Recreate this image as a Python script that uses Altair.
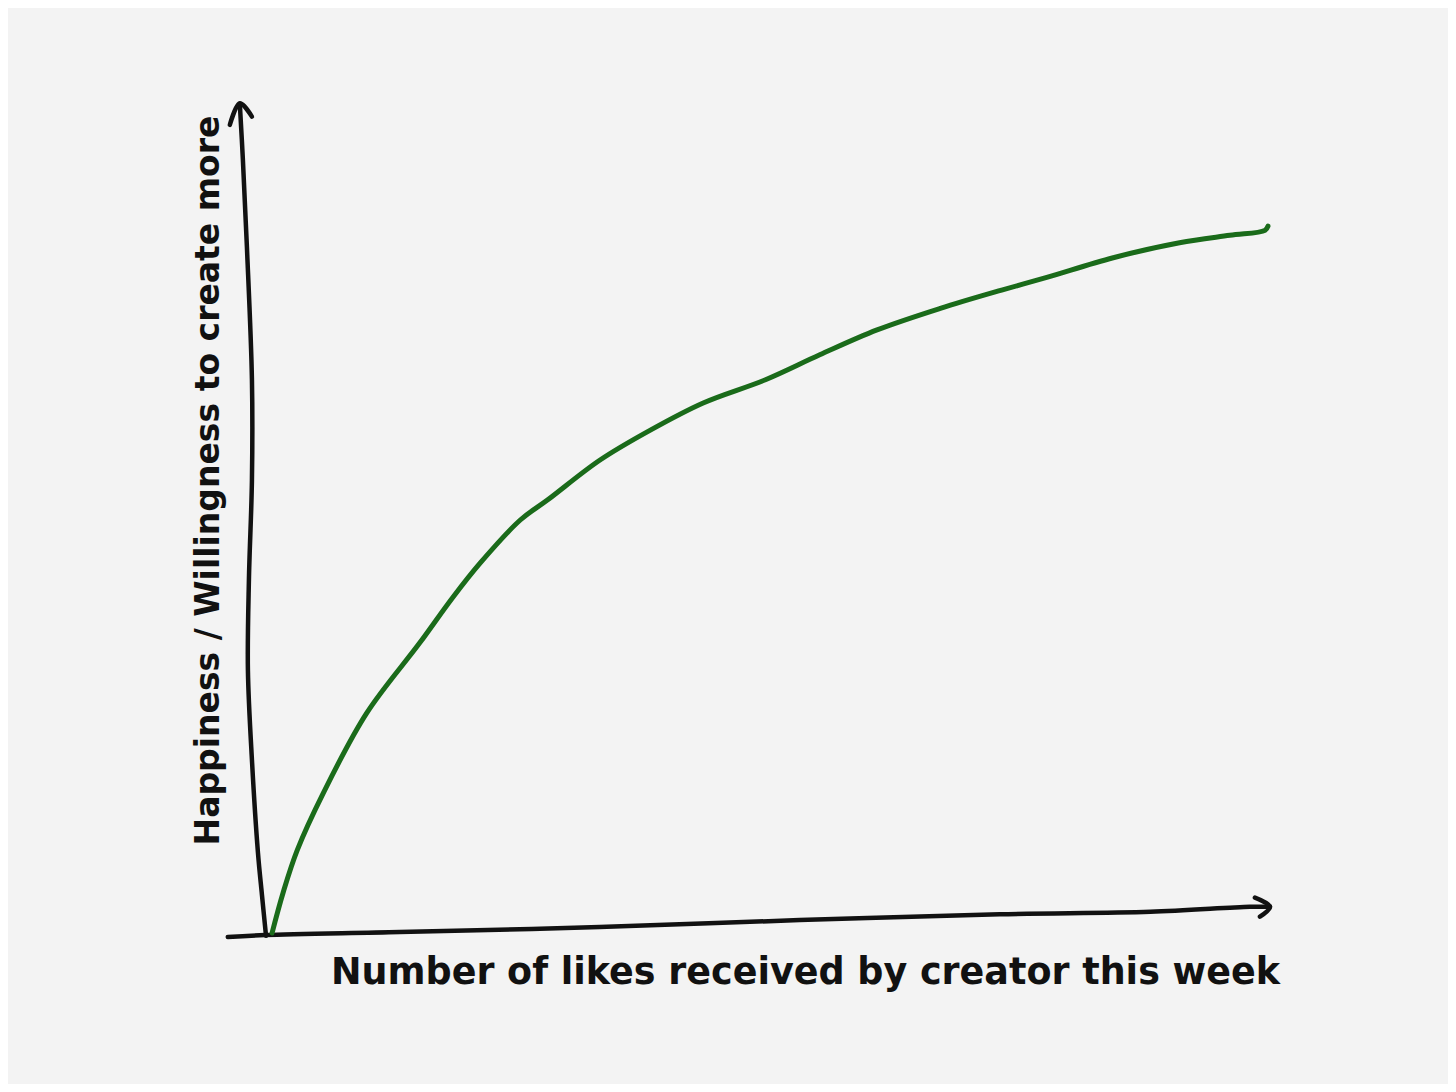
import altair as alt
import pandas as pd

# Green curve: likes (0-100 scale) vs happiness (0-100 scale)
curve_x = [0.7, 1.8, 3.2, 5.8, 10.1, 15.4, 18.7, 21.4, 25.4, 28.1, 33.3, 38.3, 43.6,
           49.8, 55.2, 60.9, 67.2, 73.3, 77.7, 84.4, 91.0, 96.0, 99.5, 99.8]
curve_y = [0.24, 5.1, 10.2, 17.1, 26.7, 35.2, 40.7, 44.8, 50.0, 52.4, 57.2, 60.8, 64.1,
           66.9, 69.9, 72.9, 75.5, 77.7, 79.2, 81.6, 83.4, 84.3, 84.9, 85.4]

# Hand-drawn y axis (slightly wavy)
yaxis_x = [0.1, -0.3, -0.7, -1.3, -1.7, -1.6, -1.3, -1.3, -1.8, -2.2, -2.5]
yaxis_y = [-0.1, 4.8, 9.9, 21.1, 31.9, 42.8, 54.8, 66.9, 82.9, 93.4, 100.0]
# Hand-drawn x axis
xaxis_x = [-3.7, 0.0, 13.4, 33.3, 53.2, 73.1, 88.1, 98.0, 100.0]
xaxis_y = [-0.24, 0.0, 0.36, 0.96, 1.8, 2.5, 2.8, 3.4, 3.4]
# Arrow heads
yarrow_x = [-3.5, -2.5, -1.3]
yarrow_y = [97.6, 100.2, 98.6]
xarrow_x = [98.5, 100.0, 99.0]
xarrow_y = [4.5, 3.4, 2.2]

x_title = "Number of likes received by creator this week"
y_title = "Happiness / Willingness to create more"

curve = pd.DataFrame({"x": curve_x, "y": curve_y, "o": range(len(curve_x))})
strokes = []
for name, xs, ys in [("yaxis", yaxis_x, yaxis_y), ("xaxis", xaxis_x, xaxis_y),
                     ("yarrow", yarrow_x, yarrow_y), ("xarrow", xarrow_x, xarrow_y)]:
    for i, (a, b) in enumerate(zip(xs, ys)):
        strokes.append({"part": name, "x": a, "y": b, "o": i})
strokes = pd.DataFrame(strokes)

FONT = "DejaVu Sans"
xs = alt.Scale(domain=[0, 100], nice=False, zero=False)
ys = alt.Scale(domain=[0, 100], nice=False, zero=False)

x_axis = alt.Axis(domain=False, ticks=False, labels=False, grid=False, title=x_title,
                  titleFont=FONT, titleFontSize=36.5, titleFontWeight="bold", titleColor="#111111",
                  titlePadding=19, titleX=540, titleAlign="center")
y_axis = alt.Axis(domain=False, ticks=False, labels=False, grid=False, title=y_title,
                  titleFont=FONT, titleFontSize=33, titleFontWeight="bold", titleColor="#111111",
                  titlePadding=40, titleY=375, titleAlign="center")

axes_lines = alt.Chart(strokes).mark_line(
    color="#111111", strokeWidth=4.5, strokeCap="round", strokeJoin="round",
    interpolate="catmull-rom", clip=False
).encode(
    x=alt.X("x:Q", scale=xs, axis=x_axis),
    y=alt.Y("y:Q", scale=ys, axis=y_axis),
    detail="part:N",
    order="o:Q",
)

curve_line = alt.Chart(curve).mark_line(
    color="#1a6b1a", strokeWidth=5, strokeCap="round", strokeJoin="round",
    interpolate="catmull-rom", clip=False
).encode(
    x=alt.X("x:Q", scale=xs),
    y=alt.Y("y:Q", scale=ys),
    order="o:Q",
)

chart = alt.layer(axes_lines, curve_line).properties(
    width=1005, height=830,
    autosize=alt.AutoSizeParams(type="none"),
    padding={"left": 257, "top": 97, "right": 178, "bottom": 149},
    background="#f3f3f3",
).configure_view(stroke=None)

chart.save("out.html", embed_options={"renderer": "svg", "actions": False})
